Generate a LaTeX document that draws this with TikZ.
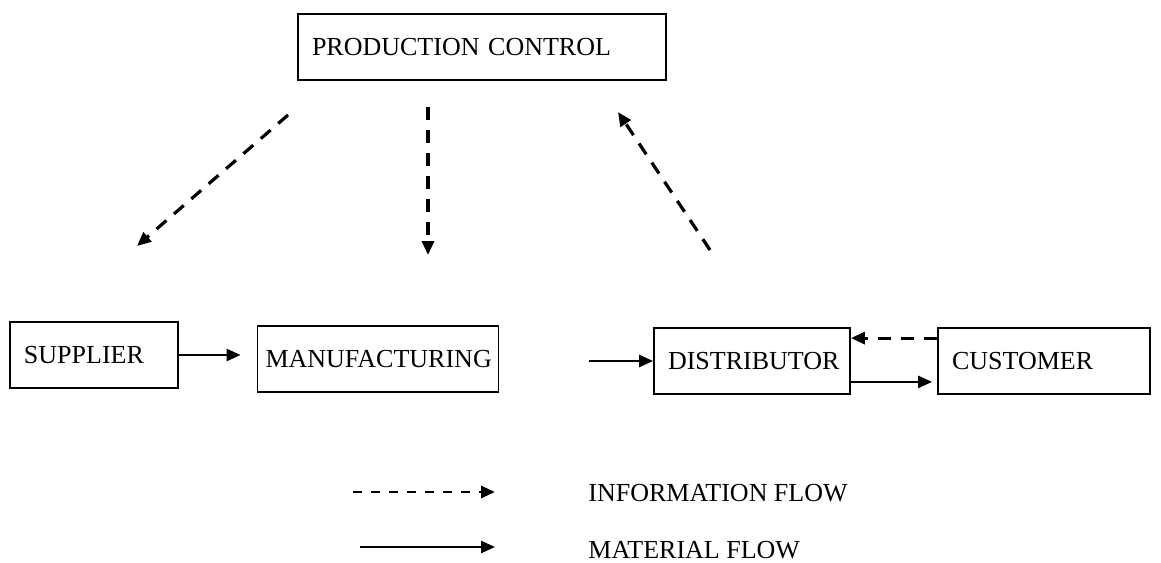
\documentclass[tikz,border=0pt]{standalone}
\usepackage{fontspec}
\setmainfont{Liberation Serif}
\usetikzlibrary{arrows.meta}
\begin{document}
\begin{tikzpicture}[
            x = 0.5pt, y = -0.5pt,
            box/.style = {draw, line width = 0.9pt, align = left, inner xsep = 7pt, inner ysep = 0pt,
                          minimum height = 33pt, font = \fontsize{13}{15}\selectfont},
            lbl/.style = {anchor = west, inner sep = 0pt, font = \fontsize{13}{15}\selectfont},
            arr/.style = {draw, line width = 1.2pt, -{Triangle[length = 7pt, width = 6pt]}},
            info/.style = {arr, line width = 1.6pt, dash pattern = on 6.5pt off 5pt},
        ]
        \useasboundingbox (0,0) rectangle (1161,562);

        \node (pc) [box, text width = 170pt] at (482,47) {PRODUCTION CONTROL};
        \node (sup) [box, text width = 70pt] at (94,355) {SUPPLIER};
        \node (man) [box, inner xsep = 4pt, text width = 112.5pt] at (378,359) {MANUFACTURING};
        \node (dist) [box, text width = 84pt] at (752,361) {DISTRIBUTOR};
        \node (cust) [box, text width = 92pt] at (1044,361) {CUSTOMER};

        \coordinate (pcsup) at (288,115);
        \coordinate (supin) at (137,246);
        \coordinate (pcman) at (428,107);
        \coordinate (manin) at (428,255);
        \coordinate (distout) at (710,250);
        \coordinate (pcin) at (618,112);

        \path[info] (pcsup) -- (supin);
        \path[info] (pcman) -- (manin);
        \path[info] (distout) -- (pcin);

        \path[arr, shorten > = 8pt] (sup.east) -- (sup.east -| man.west);
        \path[arr, shorten < = 45pt] (man.east |- dist.west) -- (dist.west);
        \path[arr, shorten > = 2.5pt] ([yshift = 6.5pt]dist.south east) -- ([yshift = 6.5pt]dist.south east -| cust.west);
        \path[info] ([yshift = -5.5pt]cust.north west) -- ([yshift = -5.5pt]cust.north west -| dist.east);

        % legend
        \node (infotxt) [lbl] at (588,493) {INFORMATION FLOW};
        \node (mattxt) [lbl] at (588,550) {MATERIAL FLOW};
        \coordinate (infoa) at (353,492);
        \coordinate (infob) at (495,492);
        \coordinate (mata) at (360,547);
        \coordinate (matb) at (495,547);

        \path[info, line width = 1.4pt, dash pattern = on 4.5pt off 4.5pt] (infoa) -- (infob);
        \path[arr] (mata) -- (matb);
    \end{tikzpicture}
\end{document}
